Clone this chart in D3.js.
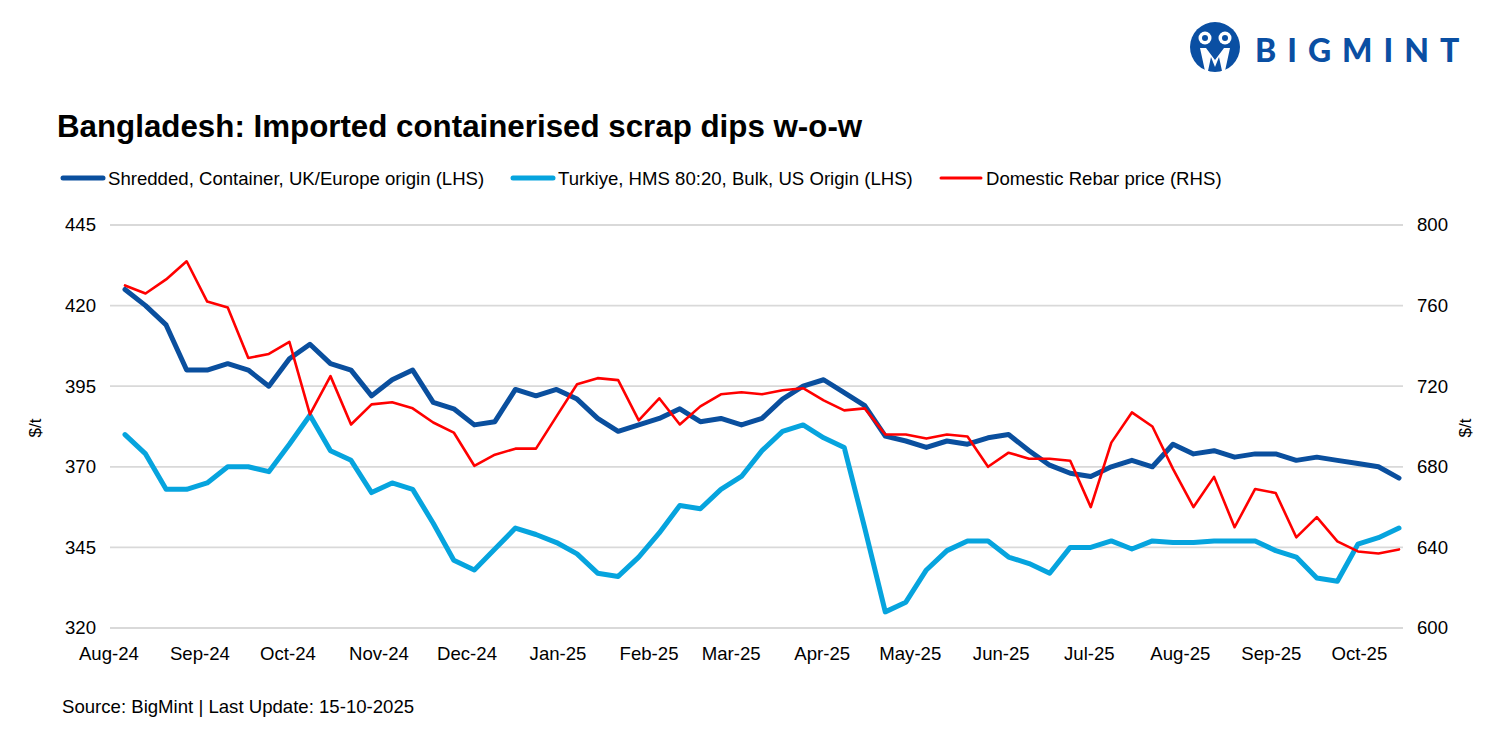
<!DOCTYPE html>
<html>
<head>
<meta charset="utf-8">
<script src="https://cdn.jsdelivr.net/npm/d3@7"></script>
<style>
  html, body { margin: 0; padding: 0; background: #fff; }
  svg { display: block; font-family: "Liberation Sans", Arial, sans-serif; }
</style>
</head>
<body>
<svg id="chart" width="1500" height="750"></svg>
<script>
// ---------------- DATA ----------------
const weeks = [
  "2024-08-07","2024-08-14","2024-08-21","2024-08-28",
  "2024-09-04","2024-09-11","2024-09-18","2024-09-25",
  "2024-10-02","2024-10-09","2024-10-16","2024-10-23","2024-10-30",
  "2024-11-06","2024-11-13","2024-11-20","2024-11-27",
  "2024-12-04","2024-12-11","2024-12-18","2024-12-25",
  "2025-01-01","2025-01-08","2025-01-15","2025-01-22","2025-01-29",
  "2025-02-05","2025-02-12","2025-02-19","2025-02-26",
  "2025-03-05","2025-03-12","2025-03-19","2025-03-26",
  "2025-04-02","2025-04-09","2025-04-16","2025-04-23","2025-04-30",
  "2025-05-07","2025-05-14","2025-05-21","2025-05-28",
  "2025-06-04","2025-06-11","2025-06-18","2025-06-25",
  "2025-07-02","2025-07-09","2025-07-16","2025-07-23","2025-07-30",
  "2025-08-06","2025-08-13","2025-08-20","2025-08-27",
  "2025-09-03","2025-09-10","2025-09-17","2025-09-24",
  "2025-10-01","2025-10-08","2025-10-15"
];

const shreddedUK = [
  425, 420, 414, 400, 400, 402, 400, 395, 403.5, 408, 402, 400, 392, 397, 400,
  390, 388, 383, 384, 394, 392, 394, 391, 385, 381, 383, 385, 388, 384, 385,
  383, 385, 391, 395, 397, 393, 389, 379.5, 378, 376, 378, 377, 379, 380,
  375, 370.5, 368, 367, 370, 372, 370, 377, 374, 375, 373, 374, 374, 372,
  373, 372, 371, 370, 366.5
];

const turkiyeHMS = [
  380, 374, 363, 363, 365, 370, 370, 368.5, 377, 386, 375, 372, 362, 365, 363,
  352.5, 341, 338, 344.5, 351, 349, 346.5, 343, 337, 336, 342, 349.5, 358, 357, 363,
  367, 375, 381, 383, 379, 376, 351, 325, 328, 338, 344, 347, 347, 342,
  340, 337, 345, 345, 347, 344.5, 347, 346.5, 346.5, 347, 347, 347, 344, 342,
  335.5, 334.5, 346, 348, 351
];

const rebarPrice = [
  770, 766, 773, 782, 762, 759, 734, 736, 742, 706, 725, 701, 711, 712, 709,
  702, 697, 680.5, 686, 689, 689, 705, 721, 724, 723, 703, 714, 701, 710, 716,
  717, 716, 718, 719, 713, 708, 709, 696, 696, 694, 696, 695, 680, 687,
  684, 684, 683, 660, 692, 707, 700, 679, 660, 675, 650, 669, 667, 645,
  655, 643, 638, 637, 639
];

const monthTicks = [
  "2024-08-01","2024-09-01","2024-10-01","2024-11-01","2024-12-01",
  "2025-01-01","2025-02-01","2025-03-01","2025-04-01","2025-05-01",
  "2025-06-01","2025-07-01","2025-08-01","2025-09-01","2025-10-01"
];
const leftTicks = [320, 345, 370, 395, 420, 445];
const rightTicks = [600, 640, 680, 720, 760, 800];

const seriesNames = [
  "Shredded, Container, UK/Europe origin (LHS)",
  "Turkiye, HMS 80:20, Bulk, US Origin (LHS)",
  "Domestic Rebar price (RHS)"
];

// ---------------- SETUP ----------------
const svg = d3.select("#chart");
const parse = d3.timeParse("%Y-%m-%d");
const dates = weeks.map(parse);

const plotL = 125, plotR = 1399, plotT = 225, plotB = 628;
const gridL = 110, gridR = 1403;
const FS = 18.6;

const x = d3.scaleTime().domain(d3.extent(dates)).range([plotL, plotR]);
const yL = d3.scaleLinear().domain([320, 445]).range([plotB, plotT]);
const yR = d3.scaleLinear().domain([600, 800]).range([plotB, plotT]);

const colDark = "#0a4f9e", colLight = "#06a4de", colRed = "#ff0000";

// gridlines
svg.append("g").selectAll("line").data(leftTicks).join("line")
  .attr("x1", gridL).attr("x2", gridR)
  .attr("y1", d => yL(d)).attr("y2", d => yL(d))
  .attr("stroke", "#d9d9d9").attr("stroke-width", 1.8);

function styleAxis(g) {
  g.select(".domain").remove();
  g.selectAll("text").attr("font-size", FS).attr("fill", "#000")
    .attr("font-family", "Liberation Sans, Arial, sans-serif");
}

// left axis
svg.append("g").attr("transform", `translate(${96},0)`)
  .call(d3.axisLeft(yL).tickValues(leftTicks).tickSize(0).tickPadding(0))
  .call(styleAxis);

// right axis
svg.append("g").attr("transform", `translate(${1417},0)`)
  .call(d3.axisRight(yR).tickValues(rightTicks).tickSize(0).tickPadding(0))
  .call(styleAxis);

// bottom axis
svg.append("g").attr("transform", `translate(1,${plotB + 19})`)
  .call(d3.axisBottom(x).tickValues(monthTicks.map(parse))
    .tickFormat(d3.timeFormat("%b-%y")).tickSize(0).tickPadding(0))
  .call(styleAxis);

// axis titles
svg.append("text").attr("transform", "translate(41,428) rotate(-90)")
  .attr("text-anchor", "middle").attr("font-size", 17).text("$/t");
svg.append("text").attr("transform", "translate(1471,428) rotate(-90)")
  .attr("text-anchor", "middle").attr("font-size", 17).text("$/t");

// lines
const lineL = d3.line().x((d, i) => x(dates[i])).y(d => yL(d));
const lineR = d3.line().x((d, i) => x(dates[i])).y(d => yR(d));

svg.append("path").datum(turkiyeHMS).attr("d", lineL)
  .attr("fill", "none").attr("stroke", colLight).attr("stroke-width", 5)
  .attr("stroke-linejoin", "round").attr("stroke-linecap", "round");
svg.append("path").datum(shreddedUK).attr("d", lineL)
  .attr("fill", "none").attr("stroke", colDark).attr("stroke-width", 5)
  .attr("stroke-linejoin", "round").attr("stroke-linecap", "round");
svg.append("path").datum(rebarPrice).attr("d", lineR)
  .attr("fill", "none").attr("stroke", colRed).attr("stroke-width", 2.6)
  .attr("stroke-linejoin", "round").attr("stroke-linecap", "round");

// title
svg.append("text").attr("x", 57).attr("y", 137)
  .attr("font-size", 31.3).attr("font-weight", "bold").attr("fill", "#000")
  .text("Bangladesh: Imported containerised scrap dips w-o-w");

// legend
const legend = [
  { name: seriesNames[0], color: colDark, w: 5, x: 63 },
  { name: seriesNames[1], color: colLight, w: 5, x: 513 },
  { name: seriesNames[2], color: colRed, w: 3, x: 941 }
];
const lg = svg.append("g");
legend.forEach(l => {
  lg.append("line").attr("x1", l.x).attr("x2", l.x + 40).attr("y1", 178).attr("y2", 178)
    .attr("stroke", l.color).attr("stroke-width", l.w).attr("stroke-linecap", "round");
  lg.append("text").attr("x", l.x + 45).attr("y", 185).attr("font-size", FS).attr("fill", "#000").text(l.name);
});

// source
svg.append("text").attr("x", 62).attr("y", 713).attr("font-size", FS).attr("fill", "#000")
  .text("Source: BigMint | Last Update: 15-10-2025");

// logo
const logo = svg.append("g");
logo.append("circle").attr("cx", 1215).attr("cy", 47).attr("r", 25).attr("fill", "#0a4fa3");
logo.append("circle").attr("cx", 1205).attr("cy", 38).attr("r", 6.5).attr("fill", "#fff");
logo.append("circle").attr("cx", 1225).attr("cy", 38).attr("r", 6.5).attr("fill", "#fff");
logo.append("circle").attr("cx", 1205).attr("cy", 38).attr("r", 3).attr("fill", "#0a4fa3");
logo.append("circle").attr("cx", 1225).attr("cy", 38).attr("r", 3).attr("fill", "#0a4fa3");
logo.append("path")
  .attr("d", "M1200,48 L1205,71 L1208,71 L1211,57 L1215,67 L1219,57 L1222,71 L1225,71 L1230,48 L1224,48 L1215,60 L1206,48 Z")
  .attr("fill", "#fff");
logo.append("text").attr("x", 1255).attr("y", 62).attr("font-size", 32).attr("font-weight", 900)
  .attr("letter-spacing", 11).attr("fill", "#0a4fa3")
  .attr("font-family", "Lato, 'Liberation Sans', Arial, sans-serif").text("BIGMINT");
</script>
</body>
</html>
